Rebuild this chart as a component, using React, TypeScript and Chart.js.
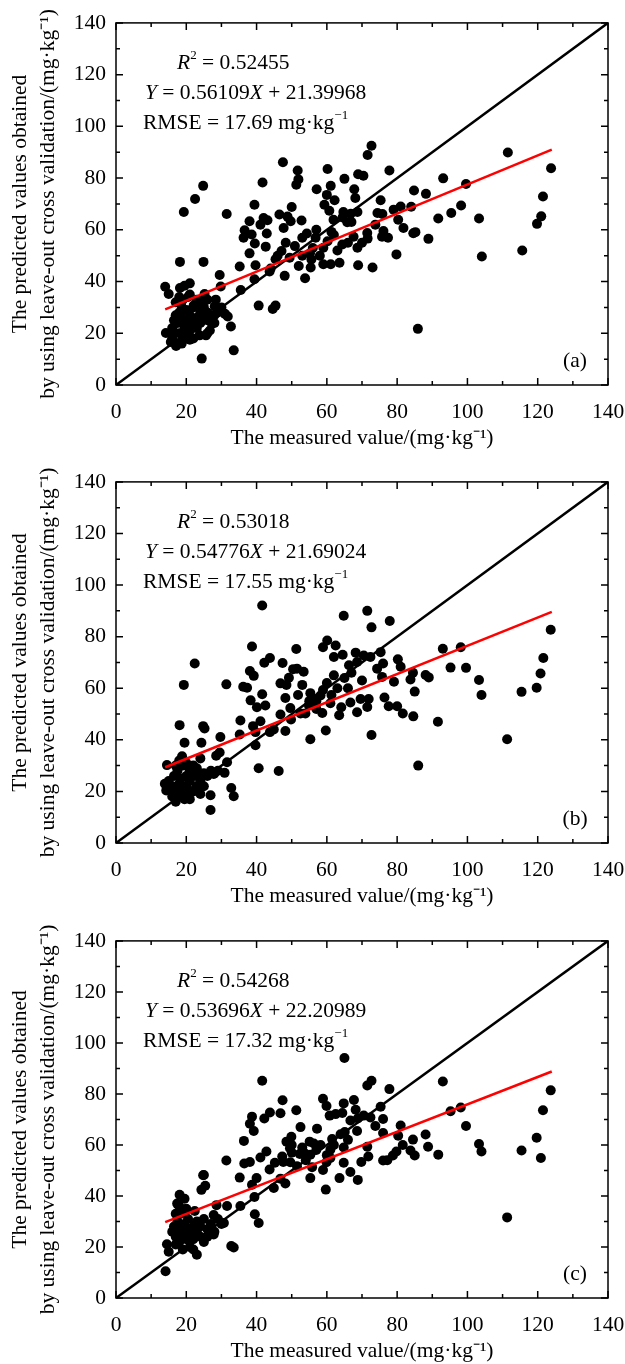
import React, { useEffect, useRef } from "react";
import { Chart, registerables } from "chart.js";

Chart.register(...registerables);

// ---------------- data ----------------
const MAJOR_TICKS = [0, 20, 40, 60, 80, 100, 120, 140];
const MINOR_TICKS = [10, 30, 50, 70, 90, 110, 130];
const PANEL_LABELS = ["(a)", "(b)", "(c)"];
const R2 = ["0.52455", "0.53018", "0.54268"];
const SLOPE = ["0.56109", "0.54776", "0.53696"];
const INTERCEPT = ["21.39968", "21.69024", "22.20989"];
const RMSE = ["17.69", "17.55", "17.32"];

const DIAGONAL: [number, number][] = [[0, 0], [140, 140]];
const FIT_A: [number, number][] = [[14, 29.25], [124, 90.97]];
const FIT_B: [number, number][] = [[14, 29.36], [124, 89.61]];
const FIT_C: [number, number][] = [[14, 29.73], [124, 88.79]];

const POINTS_A: [number, number][] = [
  [111.5, 89.9], [123.8, 83.8], [121.5, 72.9], [121, 65.2], [119.8, 62.3], [115.6, 52], [103.3, 64.4], [104.1, 49.7],
  [99.6, 77.7], [98.2, 69.4], [95.4, 66.5], [93.1, 79.9], [91.7, 64.4], [88.9, 56.5], [88.2, 73.9], [84.8, 75.2],
  [84, 68.9], [85.2, 59.1], [84.6, 58.7], [85.9, 21.7], [81.8, 60.7], [81, 69], [80.3, 63.9], [79.8, 50.5],
  [79, 67.8], [77.8, 82.9], [77.4, 56.9], [76.1, 59.5], [75.7, 57.3], [75.3, 71.4], [74.4, 66.5], [75.8, 66.1],
  [73, 45.4], [73.8, 62], [72.7, 92.5], [71.6, 88.9], [71.6, 56.6], [71.5, 58.8], [70.4, 80.9], [68.9, 81.5],
  [68.9, 46.3], [68.7, 66.9], [68.7, 53.1], [68.1, 72.3], [67.8, 75.7], [67.6, 57.3], [66.8, 66.2], [65.8, 62.9],
  [65, 79.7], [64.7, 66.9], [64.5, 64.8], [64.4, 54.3], [63.6, 47.3], [61.9, 63.9], [62.2, 71.4], [61.3, 59.2],
  [61.1, 77], [60.7, 67.4], [60.2, 83.5], [60, 73.5], [59.3, 69.7], [59, 46.7], [61.1, 46.7], [59, 53.1],
  [60.2, 55.6], [57.1, 75.7], [56.8, 56.9], [55.6, 48.5], [55.4, 45.4], [55.2, 50.9], [53.8, 41.3], [54.3, 58.6],
  [53, 56.9], [52.8, 63.6], [51.9, 79.5], [51.7, 82.9], [51.3, 77.4], [50.9, 53.7], [50, 68.8], [49.7, 63.3],
  [49.4, 49.2], [48.8, 65.1], [48.3, 55], [48, 42.2], [47.7, 60.7], [47.5, 86.1], [47.1, 51.8], [46.5, 65.9],
  [45.4, 48.6], [45.4, 30.7], [44.6, 29.4], [43.7, 43.9], [43.1, 63.7], [42.9, 58.6], [42.6, 53.5], [42, 64.6],
  [41.7, 78.3], [41.1, 62], [40.6, 30.7], [39.7, 46.3], [39.4, 40.9], [39.5, 54.7], [39.4, 69.7], [38.6, 58.2],
  [38, 50.9], [38, 63.3], [36.6, 59.8], [36.3, 56.9], [35.2, 45.8], [35.5, 36.7], [31.5, 66.1], [31.8, 26.5],
  [31, 27.5], [32.7, 22.6], [33.5, 13.4], [29.5, 42.5], [29.8, 38.1], [28.4, 33], [28.1, 30.4], [27.3, 23.7],
  [26.7, 21.1], [24.9, 47.6], [24.8, 77], [24.4, 10.2], [22.5, 71.9], [19.3, 66.9], [18.2, 47.6], [21, 39.3],
  [19.5, 38.4], [18.2, 37.5], [14, 38], [15, 35.2], [25.2, 35.2], [23.8, 31.3], [22.1, 30.7], [14.2, 20.1],
  [15.9, 19.8], [15.6, 16.6], [17.1, 15.1], [18.7, 16], [21, 17.5], [23.8, 19.2], [25.6, 19.2],
  [56, 53], [58, 50], [62, 58], [63, 52], [66, 55], [67, 63], [70, 55], [57, 60], [53, 50], [52, 46], [46, 50], [44, 45],
  [16, 22], [16.5, 25], [17, 27], [17.5, 24], [18, 20], [18, 28], [18.5, 31], [19, 26], [19, 33], [19.5, 22],
  [20, 29], [20, 24], [20.5, 34], [21, 27], [21, 21], [22, 24], [22, 30], [23, 26], [23, 22], [24, 28], [24, 24],
  [25, 26], [25, 30], [26, 28], [26, 25], [27, 27], [28, 24], [17, 32], [18, 34], [19, 18], [20, 19], [16, 18],
  [17, 16], [22, 18], [26, 20], [27, 26], [29, 28], [30, 30], [23, 33], [21, 35], [24, 32], [26, 33], [28, 27],
];

const POINTS_B: [number, number][] = [
  [41.6, 92.1], [71.5, 90], [64.8, 88.1], [77.9, 86.1], [72.7, 83.6], [123.7, 82.7], [60.1, 78.5], [58.9, 75.9],
  [62.5, 76.6], [51.3, 75.2], [38.7, 76.2], [93, 75.3], [98.1, 75.9], [121.6, 71.7], [22.4, 69.6], [43.8, 71.7],
  [42.2, 69.9], [47.4, 69.8], [62, 72.1], [64.5, 73], [68.2, 73.8], [70.5, 72.7], [72.4, 72.1], [75.3, 74],
  [68.6, 70.2], [66.3, 68.9], [76, 69.6], [74.3, 67.6], [80.2, 71.2], [81, 68.3], [95.2, 68], [99.6, 67.9],
  [120.8, 65.7], [119.7, 60.2], [115.4, 58.6], [103.3, 63.2], [104, 57.4], [84.5, 66], [83.8, 63.4], [88.1, 65.1],
  [89, 64.2], [85, 58.7], [79.1, 62.5], [75.7, 64.4], [76.4, 56.4], [77.6, 53], [80, 53], [81.6, 50.2],
  [84.6, 49.1], [91.6, 47], [111.3, 40.2], [86, 30], [72.7, 41.9], [69.6, 55.8], [71.9, 55.8], [71.5, 52.7],
  [68.6, 50.7], [66.7, 54.5], [64.1, 52.6], [63.5, 49.5], [61, 54.2], [61.3, 57.4], [58.9, 59.3], [58.7, 50.4],
  [58.2, 57.2], [59.7, 43.6], [56.3, 55.9], [55.3, 58.1], [54.9, 53.3], [53.9, 50.2], [52.5, 50.2], [51.8, 57.4],
  [53, 61.3], [53.4, 66.4], [51.5, 67.6], [50.4, 67.4], [49.2, 64.1], [48.5, 61.3], [46.8, 61.9], [48.2, 56.2],
  [49.6, 52.3], [49.8, 47.9], [46.8, 49.8], [48.2, 43.4], [55.3, 40.2], [46.3, 27.9], [40.6, 29], [44.9, 44],
  [43.8, 43], [41.1, 47.2], [39.7, 43], [39, 45.3], [39.7, 37.9], [40.1, 52.6], [38.3, 55.3], [42.5, 53.3],
  [41.6, 57.7], [39.2, 64.8], [38.1, 66.7], [37.3, 60.2], [36.2, 60.6], [35.4, 47.5], [35.2, 42.1], [31.4, 61.5],
  [29.7, 41.1], [31.6, 31.3], [30.9, 27.2], [29.5, 35.1], [28.5, 33.8], [27.8, 26.8], [32.8, 21.3], [33.5, 18.1],
  [26.9, 18.5], [26.9, 12.8], [25.2, 44.4], [24.8, 45.3], [24.3, 38.9], [24, 32.8], [18.1, 45.7], [19.5, 38.9],
  [19.3, 61.3], [18.8, 33.6], [14.5, 30.2], [13.9, 23], [14.3, 20.4],
  [57, 55], [60, 62], [63, 60], [65, 64], [67, 66], [62, 65], [57, 52], [55, 55], [66, 60], [70, 63],
  [15, 24], [16, 22], [16, 18], [16.5, 26], [17, 20], [17, 16], [17.5, 28], [18, 23], [18, 18], [18.5, 25],
  [19, 21], [19, 30], [19.5, 17], [20, 26], [20, 22], [20.5, 19], [21, 28], [21, 24], [22, 20], [22, 26],
  [23, 22], [23, 29], [24, 24], [24, 19], [25, 27], [25, 22], [26, 26], [27, 28], [28, 27], [29, 28],
  [17, 30], [18, 32], [20, 31], [21, 17], [23, 26], [22, 30],
];

const POINTS_C: [number, number][] = [
  [65, 94.1], [41.6, 85.2], [72.7, 85.2], [71.5, 83.3], [93, 84.9], [77.8, 81.9], [123.7, 81.4], [47.4, 77.5],
  [58.9, 78.1], [59.9, 75.3], [64.8, 76.3], [67.7, 77.6], [68.2, 73.8], [75.3, 75], [98.1, 74.7], [121.5, 73.6],
  [51.3, 73.6], [43.8, 72.7], [46.8, 72.4], [42.2, 70.4], [38.7, 71.1], [38.1, 68.3], [39.2, 65.5], [95.2, 73.2],
  [99.6, 67.4], [60.8, 71.5], [62.5, 72.1], [64.4, 72.5], [66.7, 69.6], [68.8, 70.4], [70.5, 71.5], [72.4, 70.8],
  [76, 70.2], [73.8, 67.4], [81, 67.6], [80.3, 63.6], [88.1, 64.1], [84.5, 62.1], [88.8, 59.3], [81.6, 60],
  [83.8, 57.8], [85, 55.9], [91.7, 56.2], [103.3, 60.4], [104, 57.4], [119.7, 62.8], [115.4, 57.8], [120.9, 54.9],
  [111.3, 31.6], [76, 64.7], [79.8, 57.4], [78.8, 55.9], [77.2, 54], [76, 53.9], [71.8, 55.5], [71.5, 59.3],
  [69.8, 53.3], [68.8, 46.3], [66.7, 49.4], [64.8, 53], [64.8, 59], [63.6, 47], [68.6, 65.5], [65.1, 65.1],
  [63.9, 64.2], [61.5, 62.3], [61, 58.1], [61, 54.9], [59.9, 53.2], [58.9, 50.2], [59.7, 42.5], [58.2, 60],
  [57.2, 66.4], [56.3, 60.6], [55.1, 61.3], [55.3, 56.2], [53.6, 56.8], [52.3, 56.5], [52.5, 67], [55.8, 51.3],
  [55.3, 47], [51.5, 51.7], [49.9, 63.2], [48.5, 61.3], [49.5, 58.7], [49.6, 53.2], [47.3, 55.5], [47.6, 53.3],
  [45.2, 53], [43.7, 50.4], [48.2, 44.9], [46.8, 46.8], [44.9, 43.1], [42.8, 57.4], [41.1, 55.1], [38.1, 53.3],
  [36.5, 52.7], [36.4, 61.6], [31.4, 53.9], [40, 47], [38.7, 44.4], [39.4, 39.6], [35.2, 47.2], [39.5, 32.8],
  [40.6, 29.4], [35.4, 36.1], [31.6, 36.1], [28.6, 36.4], [30.7, 29.4], [32.8, 20.4], [33.5, 19.8], [25, 48.2],
  [25.4, 44], [24.3, 42.4], [24.8, 48.1], [18.1, 40.5], [19.5, 38.9], [17.4, 37], [22.4, 34.1], [14.1, 10.5],
  [14.5, 21.1], [15, 18.1], [27.8, 32.5], [27.8, 24.9],
  [50, 60], [53, 59], [57, 58], [60, 56], [62, 60], [66, 62], [54, 54], [50, 57],
  [16, 26], [16.5, 28], [17, 24], [17, 21], [17.5, 30], [18, 27], [18, 22], [18.5, 33], [19, 25], [19, 19],
  [19.5, 29], [20, 23], [20, 27], [20.5, 31], [21, 25], [21, 20], [22, 28], [22, 23], [23, 26], [23, 30],
  [24, 24], [24, 28], [25, 22], [25, 31], [26, 27], [26, 24], [27, 29], [28, 26], [29, 31], [30, 29],
  [22, 19], [23, 17], [20, 35], [18, 36], [17, 33],
];

const PANEL_POINTS = [POINTS_A, POINTS_B, POINTS_C];
const PANEL_FITS = [FIT_A, FIT_B, FIT_C];

// ---------------- layout / style ----------------
const FONT = '"Liberation Serif", "Times New Roman", serif';
const FS = 21.5;
const PANEL_TOP = [0, 459, 918];
const PANEL_H = [459, 459, 446];
const PLOT_TOP = [20, 17, 15];
const PLOT_BOTTOM = [385, 384, 380];
const X_AXIS_H = 66;
const Y_AXIS_W = 116;
const RIGHT_PAD = 17;

type Seg = { t: string; it?: boolean; sup?: boolean };

function drawRich(ctx: CanvasRenderingContext2D, x: number, y: number, segs: Seg[], size: number) {
  let cx = x;
  for (const s of segs) {
    const fs = s.sup ? Math.round(size * 0.62) : size;
    ctx.font = `${s.it ? "italic " : ""}${fs}px ${FONT}`;
    const dy = s.sup ? -size * 0.36 : 0;
    ctx.fillText(s.t, cx, y + dy);
    cx += ctx.measureText(s.t).width;
  }
}

const framePlugin = {
  id: "frameAnnot",
  afterDatasetsDraw(chart: any, _args: any, opts: any) {
    const { ctx, chartArea, scales } = chart;
    const { left, right, top, bottom } = chartArea;
    const x = scales.x;
    const y = scales.y;
    ctx.save();
    ctx.strokeStyle = "#000";
    ctx.lineWidth = 1.5;
    ctx.strokeRect(left, top, right - left, bottom - top);
    const tick = (v: number, len: number) => {
      const px = x.getPixelForValue(v);
      const py = y.getPixelForValue(v);
      ctx.beginPath();
      ctx.moveTo(px, bottom); ctx.lineTo(px, bottom - len);
      ctx.moveTo(px, top); ctx.lineTo(px, top + len);
      ctx.moveTo(left, py); ctx.lineTo(left + len, py);
      ctx.moveTo(right, py); ctx.lineTo(right - len, py);
      ctx.stroke();
    };
    MAJOR_TICKS.forEach((v) => tick(v, 7));
    MINOR_TICKS.forEach((v) => tick(v, 4));

    const i = opts.index as number;
    ctx.fillStyle = "#000";
    ctx.textBaseline = "middle";
    ctx.textAlign = "left";
    drawRich(ctx, left + 61, top + 40, [
      { t: "R", it: true }, { t: "2", sup: true }, { t: " = " + R2[i] },
    ], FS);
    drawRich(ctx, left + 29, top + 70, [
      { t: "Y", it: true }, { t: " = " + SLOPE[i] }, { t: "X", it: true }, { t: " + " + INTERCEPT[i] },
    ], FS);
    drawRich(ctx, left + 27, top + 100, [
      { t: "RMSE = " + RMSE[i] + " mg·kg" }, { t: "−1", sup: true },
    ], FS);
    ctx.textAlign = "center";
    ctx.font = `${FS}px ${FONT}`;
    ctx.fillText(PANEL_LABELS[i], right - 33, bottom - 24);
    ctx.restore();
  },
};

function makeConfig(i: number): any {
  const tickFont = { family: FONT, size: FS };
  const titleFont = { family: FONT, size: FS, lineHeight: 1.3 };
  return {
    type: "scatter",
    data: {
      datasets: [
        {
          type: "line",
          data: PANEL_FITS[i].map(([x, y]) => ({ x, y })),
          borderColor: "#ff0000",
          borderWidth: 2.5,
          pointRadius: 0,
          fill: false,
        },
        {
          type: "line",
          data: DIAGONAL.map(([x, y]) => ({ x, y })),
          borderColor: "#000000",
          borderWidth: 2.5,
          pointRadius: 0,
          fill: false,
        },
        {
          type: "scatter",
          data: PANEL_POINTS[i].map(([x, y]) => ({ x, y })),
          backgroundColor: "#000000",
          borderColor: "#000000",
          borderWidth: 0,
          pointRadius: 5,
        },
      ],
    },
    options: {
      responsive: false,
      animation: false,
      devicePixelRatio: 1,
      layout: {
        padding: {
          left: 0,
          right: RIGHT_PAD,
          top: PLOT_TOP[i],
          bottom: Math.max(0, PANEL_H[i] - PLOT_BOTTOM[i] - X_AXIS_H),
        },
      },
      plugins: {
        legend: { display: false },
        tooltip: { enabled: false },
        frameAnnot: { index: i },
      },
      scales: {
        x: {
          type: "linear",
          min: 0,
          max: 140,
          afterBuildTicks: (s: any) => { s.ticks = MAJOR_TICKS.map((v) => ({ value: v })); },
          afterFit: (s: any) => { s.height = X_AXIS_H; s.paddingRight = 0; },
          ticks: { font: tickFont, color: "#000", padding: 14, maxRotation: 0 },
          grid: { display: false, drawTicks: false },
          border: { display: false },
          title: {
            display: true,
            text: "The measured value/(mg·kg⁻¹)",
            font: { family: FONT, size: FS, lineHeight: 1.2 },
            color: "#000",
            padding: { top: 0, bottom: 0 },
          },
        },
        y: {
          type: "linear",
          min: 0,
          max: 140,
          afterBuildTicks: (s: any) => { s.ticks = MAJOR_TICKS.map((v) => ({ value: v })); },
          afterFit: (s: any) => { s.width = Y_AXIS_W; },
          ticks: { font: tickFont, color: "#000", padding: 10 },
          grid: { display: false, drawTicks: false },
          border: { display: false },
          title: {
            display: true,
            text: ["The predicted values obtained", "by using leave-out cross validation/(mg·kg⁻¹)"],
            font: titleFont,
            color: "#000",
            padding: { top: 6, bottom: 0 },
          },
        },
      },
    },
    plugins: [framePlugin],
  };
}

export default function App() {
  const refs = [useRef<HTMLCanvasElement>(null), useRef<HTMLCanvasElement>(null), useRef<HTMLCanvasElement>(null)];
  useEffect(() => {
    const charts = refs.map((r, i) => new Chart(r.current as HTMLCanvasElement, makeConfig(i)));
    return () => charts.forEach((c) => c.destroy());
  }, []);
  return (
    <div style={{ position: "absolute", left: 0, top: 0, width: 625, height: 1364, background: "#fff" }}>
      {[0, 1, 2].map((i) => (
        <div key={i} style={{ position: "absolute", left: 0, top: PANEL_TOP[i], width: 625, height: PANEL_H[i] }}>
          <canvas ref={refs[i]} width={625} height={PANEL_H[i]} style={{ display: "block", width: 625, height: PANEL_H[i] }} />
        </div>
      ))}
    </div>
  );
}
